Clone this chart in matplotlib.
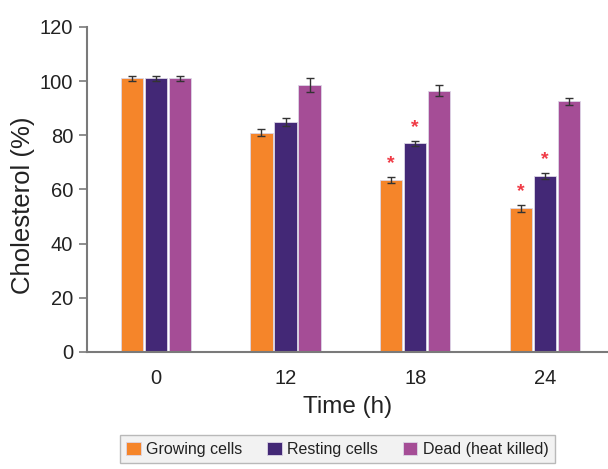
import matplotlib
matplotlib.use("Agg")
import matplotlib.pyplot as plt
import numpy as np

plt.rcParams['font.family'] = ['Liberation Sans', 'DejaVu Sans']

times = ["0", "12", "18", "24"]
series_names = ["Growing cells", "Resting cells", "Dead (heat killed)"]
growing = [101, 81, 63.5, 53]
resting = [101, 85, 77, 65]
dead = [101, 98.5, 96.5, 92.5]
growing_err = [1.0, 1.2, 1.2, 1.2]
resting_err = [0.8, 1.5, 1.0, 1.2]
dead_err = [1.0, 2.5, 2.0, 1.2]
# significance marks: (group index, series index)
stars = [(2, 0), (2, 1), (3, 0), (3, 1)]

colors = ["#f5852a", "#432876", "#a54d96"]

fig = plt.figure(figsize=(6.08, 4.69), dpi=100)
ax = fig.add_axes([0.143, 0.2495, 0.857, 0.693])

x = np.arange(len(times))
w = 0.17
pitch = 0.185
vals = [growing, resting, dead]
errs = [growing_err, resting_err, dead_err]
for i, (v, e, c, n) in enumerate(zip(vals, errs, colors, series_names)):
    pos = x + (i - 1) * pitch
    ax.bar(pos, v, width=w, color=c, edgecolor='#dcd6e6', linewidth=0.6, label=n,
           yerr=e, error_kw=dict(ecolor='#333333', elinewidth=1.0, capsize=3, capthick=1.0))

for g, s in stars:
    pos = x[g] + (s - 1) * pitch
    top = vals[s][g] + errs[s][g]
    ax.text(pos, top + 5.0, "*", color="#f03a45", ha='center', va='center',
            fontsize=14, fontweight='bold')

ax.set_ylim(0, 120)
ax.set_yticks(np.arange(0, 121, 20))
ax.set_xlim(-0.53, 3.485)
ax.set_xticks(x)
ax.set_xticklabels(times)
ax.set_ylabel("Cholesterol (%)", fontsize=18.5, color='#222222')
ax.yaxis.set_label_coords(-0.10, 0.452)
ax.set_xlabel("Time (h)", fontsize=17.5, color='#222222', labelpad=6)

for sp in ['top', 'right']:
    ax.spines[sp].set_visible(False)
for sp in ['left', 'bottom']:
    ax.spines[sp].set_color('#7a7a7a')
    ax.spines[sp].set_linewidth(1.5)
ax.tick_params(axis='y', length=6, width=1.2, color='#7a7a7a', labelsize=14.5, labelcolor='#222222', pad=4)
ax.tick_params(axis='x', length=0, labelsize=14.5, labelcolor='#222222', pad=12)

leg = fig.legend(loc='lower center', bbox_to_anchor=(0.555, -0.005), ncol=3, fontsize=11.5,
                 frameon=True, fancybox=False, handlelength=0.9, handleheight=0.9,
                 handletextpad=0.35, columnspacing=1.55, borderpad=0.4)
leg.get_frame().set_facecolor('#efefef')
leg.get_frame().set_edgecolor('#aaaaaa')
leg.get_frame().set_linewidth(1.0)
for t in leg.get_texts():
    t.set_color('#222222')

fig.savefig("out.png", dpi=100)
